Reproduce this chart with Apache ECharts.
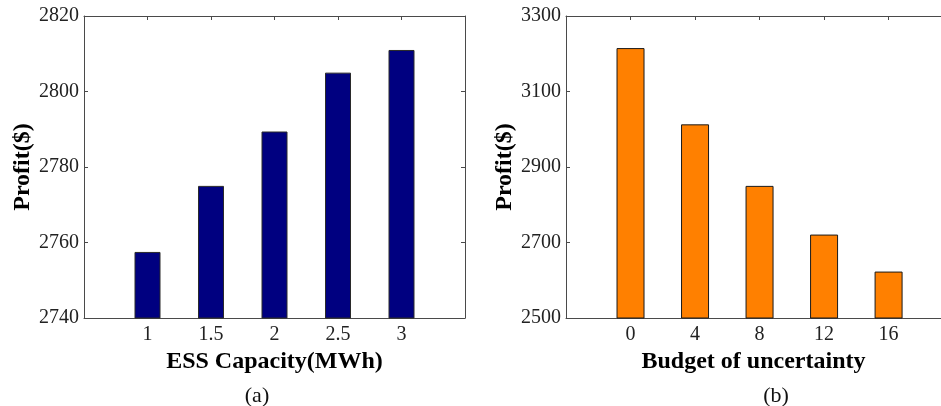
<!DOCTYPE html>
<html>
<head>
<meta charset="utf-8">
<script src="https://cdn.jsdelivr.net/npm/echarts@6/dist/echarts.min.js"></script>
<style>
  html, body { margin: 0; padding: 0; background: #fff; }
  #main { width: 941px; height: 406px; }
</style>
</head>
<body>
<div id="main"></div>
<script>
// (a) profit vs ESS capacity
const essCapacity = [1, 1.5, 2, 2.5, 3];
const profitA = [2757.5, 2775, 2789.4, 2805, 2811];
const yTicksA = { min: 2740, max: 2820, interval: 20 };

// (b) profit vs budget of uncertainty
const budget = [0, 4, 8, 12, 16];
const profitB = [3215, 3013, 2850, 2721, 2623];
const yTicksB = { min: 2500, max: 3300, interval: 200 };

const font = "'Liberation Serif', 'Times New Roman', serif";
const boxColor = '#4a4a4a';

function xAxisPair(grid, min, max, interval, name) {
  const base = {
    type: 'value', gridIndex: grid, min: min, max: max, interval: interval,
    splitLine: { show: false },
    axisLine: { onZero: false, lineStyle: { color: boxColor, width: 1 } },
    axisTick: { inside: true, length: 4, lineStyle: { color: boxColor } }
  };
  return [
    Object.assign({}, base, {
      position: 'bottom',
      name: name, nameLocation: 'middle', nameGap: 26,
      nameTextStyle: { fontFamily: font, fontSize: 24, fontWeight: 'bold', color: '#000' },
      axisLabel: {
        fontFamily: font, fontSize: 20, color: '#222', margin: 7,
        showMinLabel: false, showMaxLabel: false,
        formatter: v => String(v)
      }
    }),
    Object.assign({}, base, { position: 'top', axisLabel: { show: false } })
  ];
}

function yAxisPair(grid, ticks, showRight) {
  const base = {
    type: 'value', gridIndex: grid, min: ticks.min, max: ticks.max, interval: ticks.interval,
    splitLine: { show: false },
    axisLine: { show: true, onZero: false, lineStyle: { color: boxColor, width: 1 } },
    axisTick: { show: true, inside: true, length: 4, lineStyle: { color: boxColor } }
  };
  return [
    Object.assign({}, base, {
      position: 'left',
      name: 'Profit($)', nameLocation: 'middle', nameGap: 46,
      nameTextStyle: { fontFamily: font, fontSize: 24, fontWeight: 'bold', color: '#000' },
      axisLabel: { fontFamily: font, fontSize: 20, color: '#222', margin: 5, formatter: v => String(v) }
    }),
    Object.assign({}, base, { position: 'right', show: showRight, axisLabel: { show: false } })
  ];
}

const chart = echarts.init(document.getElementById('main'));

chart.setOption({
  animation: false,
  backgroundColor: '#fff',
  title: [
    { text: '(a)', left: 252, top: 380, textAlign: 'center',
      textStyle: { fontFamily: font, fontSize: 22, fontWeight: 'normal', color: '#111' } },
    { text: '(b)', left: 771, top: 380, textAlign: 'center',
      textStyle: { fontFamily: font, fontSize: 22, fontWeight: 'normal', color: '#111' } }
  ],
  grid: [
    { left: 84, top: 16, width: 381, height: 302 },
    // panel (b) is cut off at the right edge of the picture
    { left: 566, top: 16, right: 0, height: 302 }
  ],
  xAxis: [].concat(
    xAxisPair(0, 0.5, 3.5, 0.5, 'ESS Capacity(MWh)'),
    xAxisPair(1, -4, 19.25, 4, 'Budget of uncertainty')
  ),
  yAxis: [].concat(yAxisPair(0, yTicksA, true), yAxisPair(1, yTicksB, false)),
  series: [
    {
      type: 'bar', xAxisIndex: 0, yAxisIndex: 0, barWidth: 26,
      data: essCapacity.map((c, i) => [c, profitA[i]]),
      itemStyle: { color: '#000080', borderColor: '#2a2a2a', borderWidth: 1 }
    },
    {
      type: 'bar', xAxisIndex: 2, yAxisIndex: 2, barWidth: 28,
      data: budget.map((b, i) => [b, profitB[i]]),
      itemStyle: { color: '#ff8000', borderColor: '#1a1a1a', borderWidth: 1 }
    }
  ]
});
</script>
</body>
</html>
